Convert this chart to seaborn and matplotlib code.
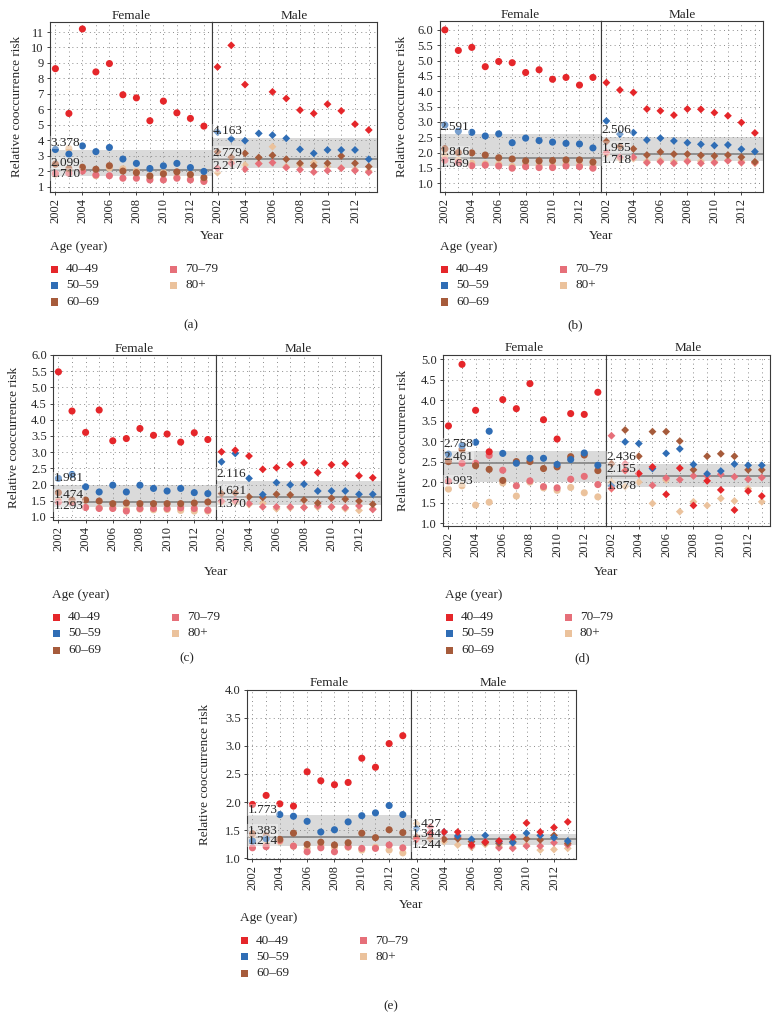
import numpy as np
import pandas as pd
import matplotlib
matplotlib.use("Agg")
import matplotlib.pyplot as plt
import seaborn as sns
from matplotlib.patches import Rectangle

# ---------------- data ----------------
YEARS = list(range(2002, 2014))
AGES = ["40\u201349", "50\u201359", "60\u201369", "70\u201379", "80+"]
COLORS = ["#E5262A", "#2F6DB5", "#A65B3B", "#E66F79", "#EBC29C"]
nan = float("nan")

# rows: 40-49, 50-59, 60-69, 70-79, 80+ ; columns 2002..2013
A_FEMALE = [
    [8.63, 5.73, 11.2, 8.42, 8.96, 6.94, 6.74, 5.26, 6.53, 5.77, 5.41, 4.91],
    [3.40, 3.10, 3.63, 3.26, 3.53, 2.78, 2.50, 2.17, 2.34, 2.50, 2.23, 1.98],
    [2.45, 2.15, 2.25, 2.12, 2.35, 2.00, 1.90, 1.69, 1.82, 1.95, 1.78, 1.58],
    [1.85, 1.86, 2.00, 1.75, 1.70, 1.54, 1.54, 1.43, 1.43, 1.54, 1.43, 1.33],
    [1.80, 3.46, 2.05, 1.70, 2.20, 2.15, 2.00, 1.55, 1.90, 1.60, 1.50, 1.40],
]
A_MALE = [
    [8.74, 10.14, 7.60, nan, 7.13, 6.70, 5.95, 5.73, 6.33, 5.90, 5.04, 4.66],
    [4.52, 4.08, 3.97, 4.44, 4.33, 4.12, 3.41, 3.15, 3.37, 3.37, 3.37, 2.77],
    [3.25, 2.90, 3.15, 2.88, 3.02, 2.77, 2.51, 2.35, 2.51, 2.98, 2.51, 2.29],
    [2.19, 2.50, 2.12, 2.48, 2.55, 2.23, 2.09, 1.94, 2.03, 2.19, 2.03, 1.92],
    [1.90, 2.60, 2.40, 2.50, 3.58, 2.30, 2.40, 2.55, 2.30, 2.20, 2.10, 2.00],
]
A_BAND_F = (1.710, 2.099, 3.378)
A_BAND_M = (2.217, 2.779, 4.163)

B_FEMALE = [
    [6.00, 5.33, 5.43, 4.80, 4.97, 4.93, 4.61, 4.70, 4.39, 4.45, 4.20, 4.45],
    [2.90, 2.70, 2.66, 2.54, 2.61, 2.32, 2.47, 2.39, 2.34, 2.30, 2.28, 2.15],
    [2.12, 2.00, 1.99, 1.92, 1.83, 1.79, 1.73, 1.73, 1.74, 1.76, 1.76, 1.69],
    [1.75, 1.68, 1.57, 1.59, 1.56, 1.49, 1.54, 1.51, 1.51, 1.56, 1.54, 1.49],
    [1.90, 1.75, 1.65, 1.63, 1.62, 1.55, 1.60, 1.58, 1.57, 1.62, 1.60, 1.55],
]
B_MALE = [
    [4.28, 4.04, 3.96, 3.42, 3.36, 3.22, 3.42, 3.41, 3.30, 3.20, 2.98, 2.64],
    [3.03, 2.60, 2.65, 2.41, 2.47, 2.38, 2.32, 2.27, 2.23, 2.25, 2.11, 2.03],
    [2.36, 2.20, 2.12, 1.92, 2.02, 1.95, 1.95, 1.91, 1.89, 1.92, 1.85, 1.70],
    [2.00, 1.85, 1.85, 1.67, 1.70, 1.65, 1.71, 1.65, 1.67, 1.73, 1.67, 1.67],
    [1.95, 1.80, 1.80, 1.72, 1.75, 1.70, 1.75, 1.72, 1.70, 1.75, 1.72, 1.65],
]
B_BAND_F = (1.569, 1.816, 2.591)
B_BAND_M = (1.718, 1.955, 2.506)

C_FEMALE = [
    [5.48, 4.27, 3.61, 4.30, 3.35, 3.42, 3.73, 3.52, 3.56, 3.31, 3.60, 3.39],
    [2.19, 2.31, 1.93, 1.77, 1.98, 1.77, 1.98, 1.88, 1.80, 1.88, 1.75, 1.72],
    [1.75, 1.52, 1.52, 1.49, 1.41, 1.43, 1.41, 1.41, 1.41, 1.41, 1.43, 1.46],
    [1.46, 1.45, 1.29, 1.26, 1.26, 1.18, 1.26, 1.26, 1.26, 1.28, 1.26, 1.21],
    [1.50, 1.45, 1.30, 1.28, 1.27, 1.25, 1.24, 1.22, 1.23, 1.20, 1.18, 1.18],
]
C_MALE = [
    [3.01, 3.06, 2.88, 2.47, 2.52, 2.62, 2.67, 2.37, 2.61, 2.65, 2.27, 2.21],
    [2.70, 2.96, 2.19, 1.69, 2.06, 1.99, 2.01, 1.80, 1.80, 1.80, 1.70, 1.70],
    [1.72, 1.74, 1.62, 1.60, 1.70, 1.68, 1.52, 1.43, 1.58, 1.55, 1.49, 1.39],
    [1.49, 1.50, 1.41, 1.31, 1.31, 1.31, 1.29, 1.34, 1.31, 1.29, 1.34, 1.23],
    [1.45, 1.45, 1.38, 1.42, 1.25, 1.28, 1.30, 1.30, 1.30, 1.25, 1.20, 1.25],
]
C_BAND_F = (1.293, 1.474, 1.981)
C_BAND_M = (1.370, 1.621, 2.116)

D_FEMALE = [
    [3.37, 4.87, 3.75, 2.74, 4.01, 3.79, 4.40, 3.52, 3.05, 3.67, 3.65, 4.19],
    [2.68, 2.89, 2.97, 3.24, 2.70, 2.46, 2.58, 2.58, 2.43, 2.55, 2.71, 2.41],
    [2.50, 2.80, 2.40, 2.31, 2.04, 2.50, 2.50, 2.33, 2.37, 2.62, 2.66, 2.28],
    [2.02, 2.46, 2.46, 2.65, 2.29, 1.91, 2.03, 1.89, 1.86, 2.07, 2.14, 1.94],
    [1.83, 1.91, 1.44, 1.51, 1.98, 1.66, 2.00, 1.86, 1.80, 1.87, 1.74, 1.64],
]
D_MALE = [
    [1.84, 2.28, 2.21, 2.37, 1.70, 2.34, 1.43, 2.03, 1.81, 1.32, 1.78, 1.66],
    [1.91, 2.98, 2.94, 2.33, 2.70, 2.81, 2.43, 2.20, 2.27, 2.44, 2.41, 2.41],
    [2.45, 3.27, 2.63, 3.23, 3.23, 3.00, 2.30, 2.63, 2.69, 2.63, 2.30, 2.30],
    [3.13, 2.45, 2.20, 1.92, 2.10, 2.06, 2.15, 2.15, 2.19, 2.13, 2.07, 2.11],
    [2.00, 1.89, 2.00, 1.48, 2.05, 1.28, 1.52, 1.43, 1.60, 1.54, 1.84, 1.52],
]
D_BAND_F = (1.993, 2.461, 2.758)
D_BAND_M = (1.878, 2.155, 2.436)

E_FEMALE = [
    [1.96, 2.12, 1.97, 1.93, 2.54, 2.38, 2.31, 2.35, 2.78, 2.62, 3.04, 3.18],
    [1.31, 1.35, 1.78, 1.75, 1.66, 1.47, 1.51, 1.65, 1.76, 1.81, 1.94, 1.78],
    [1.44, 1.40, 1.34, 1.45, 1.25, 1.29, 1.24, 1.28, 1.45, 1.37, 1.51, 1.46],
    [1.19, 1.21, 1.32, 1.22, 1.12, 1.19, 1.12, 1.21, 1.18, 1.18, 1.24, 1.19],
    [1.40, 1.25, 1.30, 1.22, 1.18, 1.22, 1.20, 1.20, 1.15, 1.20, 1.15, 1.10],
]
E_MALE = [
    [1.34, 1.45, 1.47, 1.47, 1.24, 1.29, 1.31, 1.38, 1.63, 1.47, 1.55, 1.65],
    [1.53, 1.45, 1.47, 1.40, 1.34, 1.41, 1.30, 1.28, 1.45, 1.41, 1.37, 1.31],
    [1.38, 1.35, 1.34, 1.35, 1.30, 1.28, 1.27, 1.30, 1.35, 1.33, 1.41, 1.27],
    [1.35, 1.56, 1.35, 1.37, 1.22, 1.30, 1.19, 1.18, 1.22, 1.22, 1.28, 1.24],
    [1.62, 1.35, 1.30, 1.24, 1.20, 1.25, 1.22, 1.20, 1.24, 1.15, 1.16, 1.18],
]
E_BAND_F = (1.214, 1.383, 1.773)
E_BAND_M = (1.244, 1.344, 1.427)

# ---------------- style ----------------
sns.set_style("white")
plt.rcParams["font.family"] = ["Liberation Serif", "DejaVu Serif"]
plt.rcParams["axes.edgecolor"] = "#3a3a3a"
plt.rcParams["axes.linewidth"] = 0.8

W, H = 779, 1019
fig = plt.figure(figsize=(W / 100, H / 100), dpi=100)

FS = 9.5
TFS = 9
BAND_COLOR = "#DADADA"
MID_COLOR = "#8A8A8A"
GRID = dict(color="#8c8c8c", lw=0.7, ls=(0, (1, 3.5)))


def fx(x):
    return x / W


def fy(y):
    return 1 - y / H


def make_df(values):
    rows = []
    # draw oldest group first so younger groups sit on top
    for i in range(len(AGES) - 1, -1, -1):
        for yr, v in zip(YEARS, values[i]):
            rows.append({"Year": yr, "Risk": v, "Age": AGES[i]})
    return pd.DataFrame(rows)


def draw_facet(ax, values, band, marker, size, ylim, ystep, fmt, first, title, offs):
    lo, mid, hi = band
    ax.axhspan(lo, hi, color=BAND_COLOR, lw=0, zorder=0.5)
    ax.axhline(mid, color=MID_COLOR, lw=1.3, zorder=0.7)
    df = make_df(values)
    sns.scatterplot(data=df, x="Year", y="Risk", hue="Age", hue_order=AGES,
                    palette=COLORS, marker=marker, s=size, linewidth=0,
                    legend=False, ax=ax, zorder=3)
    ax.set_xlim(2001.6, 2013.6)
    ax.set_ylim(*ylim)
    ax.set_xticks(range(2002, 2014, 2))
    ax.set_xticks(YEARS, minor=True)
    ticks = np.arange(1.0, ylim[1] + 1e-6, ystep)
    ax.set_yticks(ticks)
    ax.grid(False)
    for xv in YEARS:
        ax.axvline(xv, zorder=0.8, **GRID)
    for yv in ticks:
        ax.axhline(yv, zorder=0.8, **GRID)
    ax.set_xticklabels([str(y) for y in range(2002, 2014, 2)], rotation=90, fontsize=TFS)
    ax.tick_params(axis="x", which="major", length=2.5, width=0.6, bottom=True, pad=2)
    ax.tick_params(axis="x", which="minor", length=0)
    if first:
        ax.set_yticklabels([fmt.format(t) for t in ticks], fontsize=TFS)
        ax.tick_params(axis="y", length=2.5, width=0.6, left=True, pad=2)
    else:
        ax.set_yticklabels([])
        ax.tick_params(axis="y", length=0)
    ax.set_xlabel("")
    ax.set_ylabel("")
    ax.set_title(title, fontsize=FS, pad=2.5)
    bb = dict(fc="white", ec="none", alpha=0.35, pad=0.3)
    for val, off in zip((hi, mid, lo), offs):
        ax.annotate(f"{val:.3f}", xy=(0, val), xycoords=("axes fraction", "data"),
                    xytext=(0.3, off), textcoords="offset points", ha="left",
                    va="center", fontsize=FS, zorder=6, bbox=bb)


STD_OFFS = (5, 4.5, 1)
PANELS = [
    dict(tag="(a)", F=A_FEMALE, M=A_MALE, bf=A_BAND_F, bm=A_BAND_M,
         L=50, D=212, R=377, T=22, B=191.5, ylim=(0.68, 11.65), step=1, fmt="{:.0f}",
         ylx=17, yeary=236, leg=(50, 247), cap=(191, 325), offF=STD_OFFS, offM=STD_OFFS),
    dict(tag="(b)", F=B_FEMALE, M=B_MALE, bf=B_BAND_F, bm=B_BAND_M,
         L=439.5, D=601, R=763, T=21, B=191.5, ylim=(0.73, 6.29), step=0.5, fmt="{:.1f}",
         ylx=402, yeary=236, leg=(440, 247), cap=(575, 325), offF=STD_OFFS, offM=STD_OFFS),
    dict(tag="(c)", F=C_FEMALE, M=C_MALE, bf=C_BAND_F, bm=C_BAND_M,
         L=53, D=216, R=381, T=355, B=519.5, ylim=(0.92, 6.0), step=0.5, fmt="{:.1f}",
         ylx=14, yeary=572, leg=(52, 595), cap=(187, 658), offF=STD_OFFS, offM=STD_OFFS),
    dict(tag="(d)", F=D_FEMALE, M=D_MALE, bf=D_BAND_F, bm=D_BAND_M,
         L=443, D=606, R=770, T=354.5, B=526, ylim=(0.93, 5.11), step=0.5, fmt="{:.1f}",
         ylx=403, yeary=572, leg=(445, 595), cap=(582, 658), offF=STD_OFFS, offM=STD_OFFS),
    dict(tag="(e)", F=E_FEMALE, M=E_MALE, bf=E_BAND_F, bm=E_BAND_M,
         L=247, D=411, R=576, T=689.5, B=858.5, ylim=(1.0, 4.0), step=0.5, fmt="{:.1f}",
         ylx=205, yeary=905, leg=(240, 918), cap=(391, 1006),
         offF=(3.5, 4.5, 4), offM=(7.5, 3.5, -0.5)),
]

for p in PANELS:
    L, D, R, T, B = p["L"], p["D"], p["R"], p["T"], p["B"]
    axF = fig.add_axes([fx(L), fy(B), fx(D - L), (B - T) / H])
    axM = fig.add_axes([fx(D), fy(B), fx(R - D), (B - T) / H])
    draw_facet(axF, p["F"], p["bf"], "o", 26, p["ylim"], p["step"], p["fmt"], True,
               "Female", p["offF"])
    draw_facet(axM, p["M"], p["bm"], "D", 16, p["ylim"], p["step"], p["fmt"], False,
               "Male", p["offM"])
    fig.text(fx(p["ylx"]), fy((T + B) / 2), "Relative cooccurrence risk", rotation=90,
             ha="center", va="center", fontsize=FS)
    fig.text(fx(D), fy(p["yeary"]), "Year", ha="center", va="center", fontsize=FS)
    # legend
    lx, ly = p["leg"]
    fig.text(fx(lx), fy(ly), "Age (year)", ha="left", va="center", fontsize=FS)
    rows_y = [ly + 22.5, ly + 38.5, ly + 55]
    for i, (lab, col) in enumerate(zip(AGES, COLORS)):
        cx = lx + (0 if i < 3 else 119)
        cy = rows_y[i if i < 3 else i - 3]
        fig.add_artist(Rectangle((fx(cx + 1), fy(cy + 3.5)), fx(7), 7 / H,
                                 transform=fig.transFigure, color=col, lw=0))
        fig.text(fx(cx + 16), fy(cy), lab, ha="left", va="center", fontsize=FS)
    fig.text(fx(p["cap"][0]), fy(p["cap"][1]), p["tag"], ha="center", va="center", fontsize=FS)

fig.savefig("out.png", dpi=100)
